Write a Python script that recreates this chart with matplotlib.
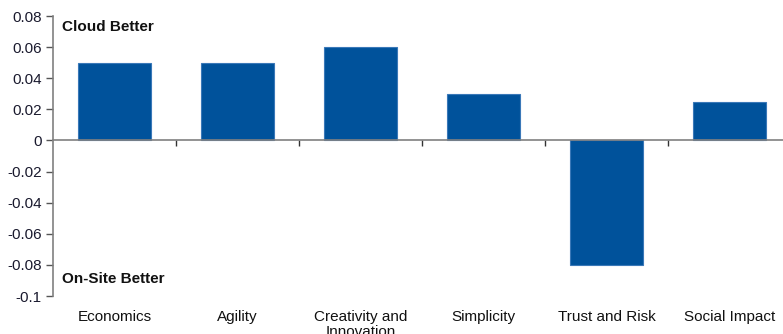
import matplotlib.pyplot as plt
import matplotlib.transforms as mtransforms

categories = ['Economics', 'Agility', 'Creativity and\nInnovation', 'Simplicity',
              'Trust and Risk', 'Social Impact']
values = [0.05, 0.05, 0.06, 0.03, -0.08, 0.025]
y_ticks = [0.08, 0.06, 0.04, 0.02, 0, -0.02, -0.04, -0.06, -0.08, -0.1]
y_labels = ['0.08', '0.06', '0.04', '0.02', '0', '-0.02', '-0.04', '-0.06', '-0.08', '-0.1']

plt.rcParams['font.family'] = ['Liberation Sans', 'DejaVu Sans']

fig = plt.figure(figsize=(7.83, 3.34), dpi=100)
ax = fig.add_axes([53 / 783, 38 / 334, 738 / 783, 280 / 334])

x = list(range(len(categories)))
ax.bar(x, values, width=0.6, color='#00529B', edgecolor='#3a78b8', linewidth=0.8, zorder=2)

ax.set_xlim(-0.5, len(categories) - 0.5)
ax.set_ylim(-0.1, 0.08)

# spines
for s in ['top', 'right']:
    ax.spines[s].set_visible(False)
ax.spines['bottom'].set_position(('data', 0))
ax.spines['bottom'].set_color('#808080')
ax.spines['left'].set_color('#808080')
ax.spines['bottom'].set_linewidth(1.2)
ax.spines['left'].set_linewidth(1.2)

ax.set_yticks(y_ticks)
ax.set_yticklabels(y_labels, fontsize=11, color='#1a1a2e')
ax.tick_params(axis='y', direction='out', length=5, width=1, color='#555555', pad=3)

# ticks between categories, no labels
ax.set_xticks([i + 0.5 for i in x])
ax.set_xticklabels([])
ax.tick_params(axis='x', direction='out', length=4, width=1, color='#333333')

# category labels below plot
trans = mtransforms.blended_transform_factory(ax.transData, ax.transAxes)
for i, lab in zip(x, categories):
    ax.text(i, -0.05, lab, transform=trans, ha='center', va='top',
            fontsize=11, color='#111111', clip_on=False, linespacing=1.05)

ax.text(9 / 738, 0.96, 'Cloud Better', transform=ax.transAxes, fontsize=11,
        fontweight='bold', va='center', ha='left', color='#111111')
ax.text(9 / 738, 0.06, 'On-Site Better', transform=ax.transAxes, fontsize=11,
        fontweight='bold', va='center', ha='left', color='#111111')

fig.savefig('out.png', dpi=100)
